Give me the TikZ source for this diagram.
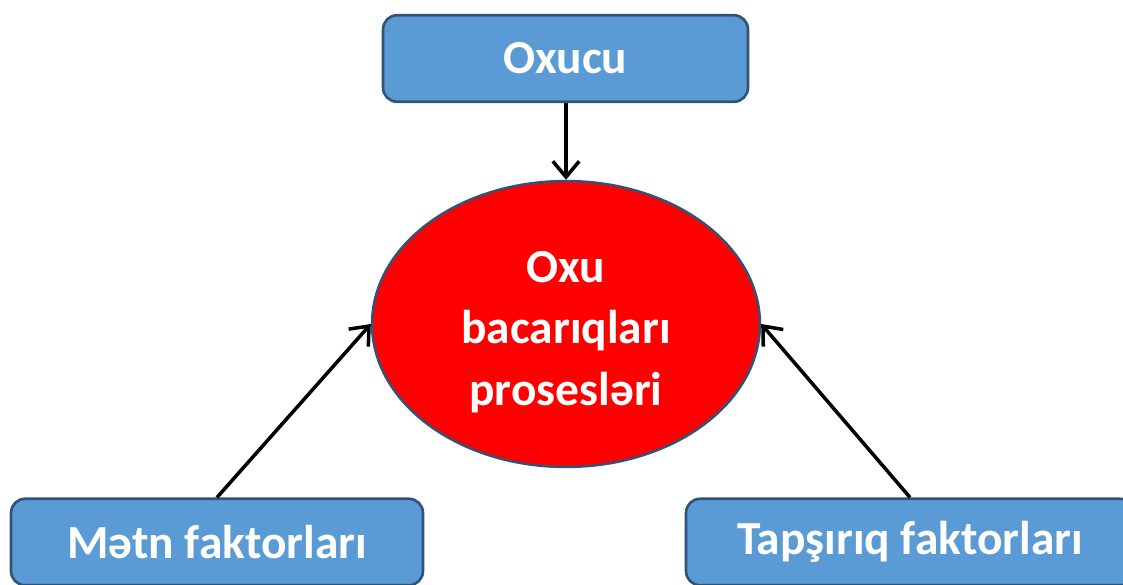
\documentclass[tikz,border=0pt]{standalone}
\usepackage{fontspec}
\setmainfont{Carlito}
\usepackage{tikz}
\usetikzlibrary{arrows.meta, shapes.geometric}
\definecolor{boxblue}{RGB}{91, 155, 213}
\definecolor{edgeblue}{RGB}{49, 83, 120}
\definecolor{redfill}{RGB}{255, 0, 0}

\begin{document}
\begin{tikzpicture}[x=0.02cm, y=-0.02cm, thick,
  factor/.style={draw=edgeblue, line width=1.5pt, fill=boxblue, rounded corners=8pt,
    text=white, font=\fontsize{27}{32}\selectfont\bfseries, minimum height=1.73cm},
  link/.style={-{Straight Barb[length=9pt, width=15pt, line width=2pt]}, line width=2pt}]
  \useasboundingbox (0, 0) rectangle (1123, 585);

  \node[factor, minimum width=7.3cm] (reader) at (565.5, 58.5) { Oxucu };

  \node[ellipse, draw=edgeblue, line width=1.4pt, fill=redfill, text=white,
    inner sep=0pt, minimum width=7.76cm, minimum height=5.72cm,
    font=\fontsize{27}{35}\selectfont\bfseries] (skills) at (566, 324)
    { \begin{tabular}{@{}c@{}} \rule{0pt}{33pt}Oxu\\ bacarıqları\\ prosesləri \end{tabular} };

  \node[factor, minimum width=8.24cm] (text) at (217, 542) { Mətn faktorları };

  \node[factor, minimum width=8.96cm] (task) at (910, 542) { Tapşırıq faktorları };

  \draw[link] (reader.south -| skills.north) -- (skills.north);
  \draw[link] (text.north) -- (skills.west);
  \draw[link] (task.north) -- (skills.east);

\end{tikzpicture}
\end{document}
